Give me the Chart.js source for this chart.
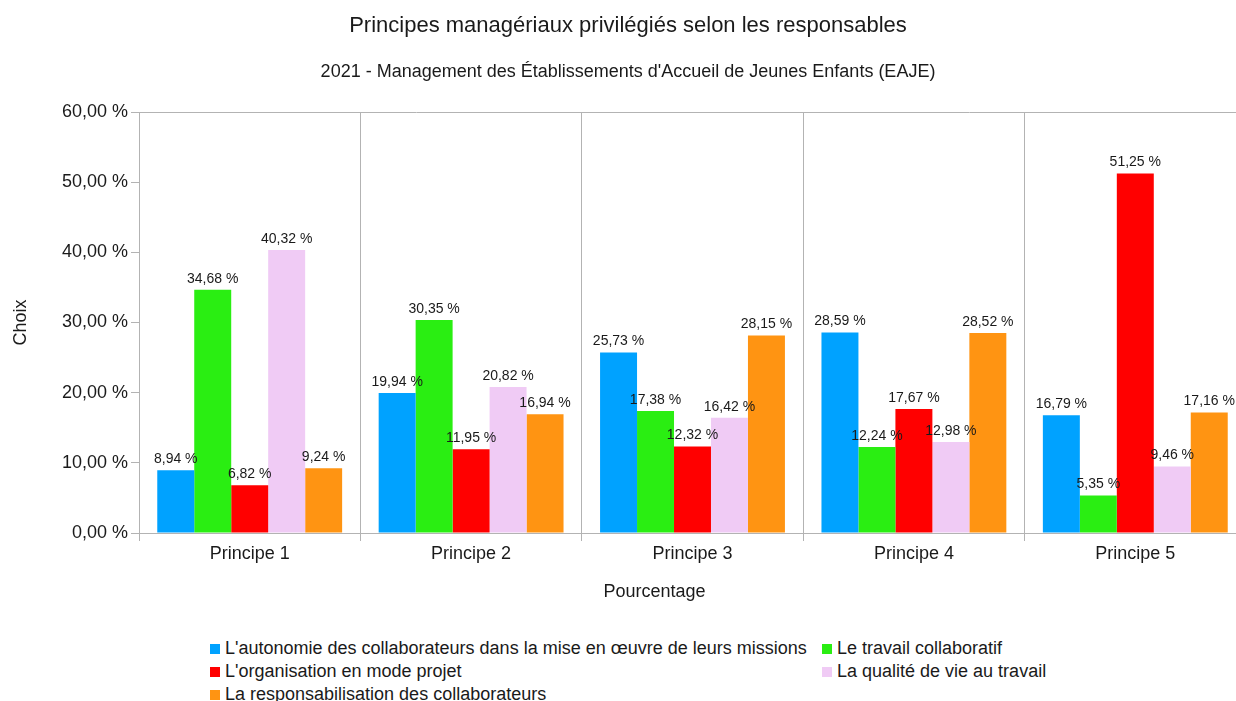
<!DOCTYPE html>
<html lang="fr">
<head>
<meta charset="utf-8">
<script src="https://cdn.jsdelivr.net/npm/chart.js@4/dist/chart.umd.min.js"></script>
<style>
  html, body { margin: 0; padding: 0; background: #fff; overflow: hidden; }
  #wrap { position: relative; width: 1250px; height: 620px; }
  #legend {
    position: absolute; left: 0; top: 638px; width: 1236px; height: 70px;
    font-family: "Liberation Sans", Arial, sans-serif; font-size: 18px; color: #1a1a1a;
  }
  #legend .item { position: absolute; white-space: nowrap; line-height: 21px; }
  #legend .box { display: inline-block; width: 10px; height: 10px; margin-right: 5px; vertical-align: 0px; }
</style>
</head>
<body>
<div id="wrap"><canvas id="principes-chart"></canvas></div>
<div id="legend"></div>
<script>
const categories = ['Principe 1', 'Principe 2', 'Principe 3', 'Principe 4', 'Principe 5'];

const autonomie = [8.94, 19.94, 25.73, 28.59, 16.79];
const travailCollaboratif = [34.68, 30.35, 17.38, 12.24, 5.35];
const modeProjet = [6.82, 11.95, 12.32, 17.67, 51.25];
const qualiteVie = [40.32, 20.82, 16.42, 12.98, 9.46];
const responsabilisation = [9.24, 16.94, 28.15, 28.52, 17.16];

const seriesLabels = [
    "L'autonomie des collaborateurs dans la mise en œuvre de leurs missions",
    'Le travail collaboratif',
    "L'organisation en mode projet",
    'La qualité de vie au travail',
    'La responsabilisation des collaborateurs'
];
const seriesColors = ['#00a2ff', '#2aee12', '#ff0000', '#f0cbf5', '#ff9412'];

const yTicks = [0, 10, 20, 30, 40, 50, 60];

const fmt = v => v.toFixed(2).replace('.', ',') + ' %';
const fontFamily = '"Liberation Sans", Arial, sans-serif';
const gridGrey = '#b3b3b3';

// value above every bar
const valueLabels = {
    id: 'valueLabels',
    afterDatasetsDraw(chart) {
        const ctx = chart.ctx;
        ctx.save();
        ctx.font = '14px ' + fontFamily;
        ctx.fillStyle = '#1a1a1a';
        ctx.textAlign = 'center';
        ctx.textBaseline = 'bottom';
        chart.data.datasets.forEach((ds, i) => {
            chart.getDatasetMeta(i).data.forEach((bar, j) => {
                ctx.fillText(fmt(ds.data[j]), bar.x, bar.y - 4);
            });
        });
        ctx.restore();
    }
};

// x axis title, sits a little left of the plot centre in the original
const xTitle = {
    id: 'xTitle',
    afterDraw(chart) {
        const ctx = chart.ctx;
        const a = chart.chartArea;
        ctx.save();
        ctx.font = '18px ' + fontFamily;
        ctx.fillStyle = '#1a1a1a';
        ctx.textAlign = 'center';
        ctx.textBaseline = 'middle';
        ctx.fillText('Pourcentage', (a.left + a.right) / 2 - 38, a.bottom + 59);
        ctx.restore();
    }
};

const allSeries = [autonomie, travailCollaboratif, modeProjet, qualiteVie, responsabilisation];

const chart = new Chart(document.getElementById('principes-chart'), {
    type: 'bar',
    data: {
        labels: categories,
        datasets: allSeries.map((data, i) => ({
            label: seriesLabels[i],
            data: data,
            backgroundColor: seriesColors[i],
            borderWidth: 0,
            barPercentage: 1,
            categoryPercentage: 0.835
        }))
    },
    options: {
        responsive: true,
        maintainAspectRatio: false,
        animation: false,
        layout: { padding: { left: 10, right: 4, top: 0, bottom: 0 } },
        plugins: {
            legend: { display: false },
            tooltip: { enabled: false },
            title: {
                display: true,
                text: 'Principes managériaux privilégiés selon les responsables',
                color: '#1a1a1a',
                font: { family: fontFamily, size: 22, weight: 'normal' },
                padding: { top: 13, bottom: 22 }
            },
            subtitle: {
                display: true,
                text: "2021 - Management des Établissements d'Accueil de Jeunes Enfants (EAJE)",
                color: '#1a1a1a',
                font: { family: fontFamily, size: 18, weight: 'normal' },
                padding: { top: 0, bottom: 29 }
            }
        },
        scales: {
            x: {
                offset: true,
                grid: { offset: true, color: gridGrey, tickColor: gridGrey, tickLength: 8, lineWidth: 1 },
                border: { color: gridGrey },
                ticks: { color: '#1a1a1a', font: { family: fontFamily, size: 18 }, padding: 2 },
                afterFit: s => { s.height = 87; }
            },
            y: {
                min: 0,
                max: 60,
                afterBuildTicks: s => { s.ticks = yTicks.map(v => ({ value: v })); },
                grid: {
                    color: c => (c.tick && c.tick.value === 60) ? gridGrey : 'rgba(0,0,0,0)',
                    tickColor: gridGrey, tickLength: 8, lineWidth: 1
                },
                border: { color: gridGrey },
                ticks: { color: '#1a1a1a', font: { family: fontFamily, size: 18 }, padding: 3, callback: v => fmt(v) },
                title: {
                    display: true, text: 'Choix', color: '#1a1a1a',
                    font: { family: fontFamily, size: 18 }, padding: { top: 0, bottom: 0 }
                },
                afterFit: s => { s.width = 129; }
            }
        }
    },
    plugins: [valueLabels, xTitle]
});

// legend laid out in two columns like the original
const legendPos = [[210, 0], [822, 0], [210, 23], [822, 23], [210, 46]];
const legendEl = document.getElementById('legend');
seriesLabels.forEach((label, i) => {
    const item = document.createElement('div');
    item.className = 'item';
    item.style.left = legendPos[i][0] + 'px';
    item.style.top = legendPos[i][1] + 'px';
    const box = document.createElement('span');
    box.className = 'box';
    box.style.background = seriesColors[i];
    item.appendChild(box);
    item.appendChild(document.createTextNode(label));
    legendEl.appendChild(item);
});
</script>
</body>
</html>
